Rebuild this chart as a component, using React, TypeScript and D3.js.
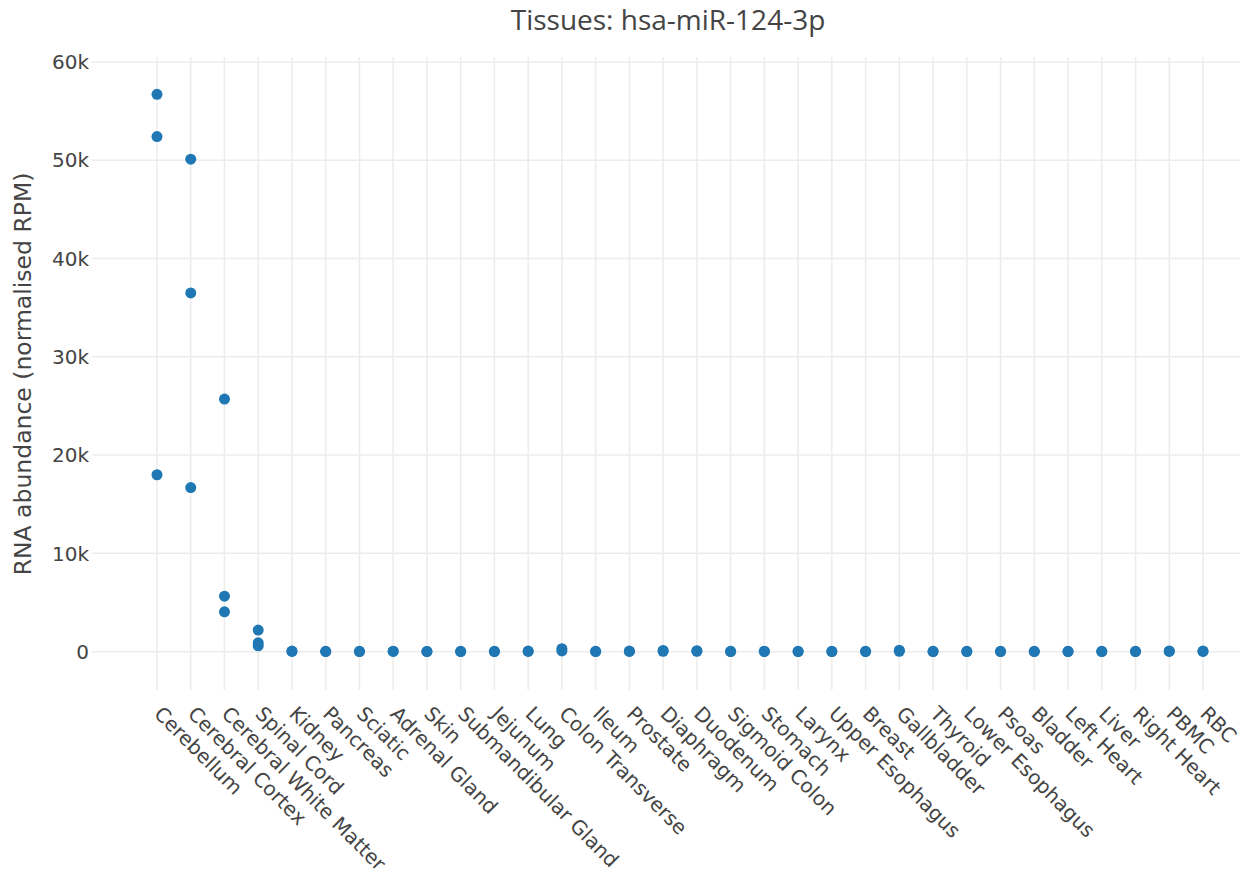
import React from "react";
import * as d3 from "d3";

// Tissue categories in plotted order
const tissues = [
  "Cerebellum", "Cerebral Cortex", "Cerebral White Matter", "Spinal Cord",
  "Kidney", "Pancreas", "Sciatic", "Adrenal Gland", "Skin", "Submandibular Gland",
  "Jejunum", "Lung", "Colon Transverse", "Ileum", "Prostate", "Diaphragm",
  "Duodenum", "Sigmoid Colon", "Stomach", "Larynx", "Upper Esophagus", "Breast",
  "Gallbladder", "Thyroid", "Lower Esophagus", "Psoas", "Bladder", "Left Heart",
  "Liver", "Right Heart", "PBMC", "RBC",
];

// Normalised RPM per sample, one list per tissue (same order as tissues)
const abundance: number[][] = [
  [56700, 52400, 18000],
  [50100, 36500, 16700],
  [25700, 5650, 4050],
  [2200, 900, 600],
  [60, 20],
  [40, 10],
  [30, 10],
  [50, 20],
  [20, 5],
  [30, 10],
  [40, 10],
  [60, 20],
  [300, 80],
  [40, 10],
  [60, 20],
  [120, 30],
  [100, 30],
  [40, 10],
  [50, 15],
  [30, 10],
  [40, 10],
  [30, 10],
  [150, 40],
  [40, 10],
  [30, 10],
  [40, 10],
  [30, 10],
  [40, 10],
  [30, 10],
  [30, 10],
  [80, 20],
  [60, 20],
];

const yTicks = [0, 10000, 20000, 30000, 40000, 50000, 60000];
const yTickLabels = ["0", "10k", "20k", "30k", "40k", "50k", "60k"];

const title = "Tissues: hsa-miR-124-3p";
const yTitle = "RNA abundance (normalised RPM)";

const W = 1247;
const H = 880;
const plot = { left: 92, right: 1240, top: 57, bottom: 690 };

export default function App() {
  const x = d3
    .scalePoint<string>()
    .domain(tissues)
    .range([157, 1203]);
  const y = d3
    .scaleLinear()
    .domain([-3900, 60500])
    .range([plot.bottom, plot.top]);

  const points = tissues.flatMap((t, i) =>
    abundance[i].map((v, j) => ({ t, v, key: `${i}-${j}` }))
  );

  const grid = "#ececec";
  const text = "#444";
  const sans = "'DejaVu Sans', Verdana, sans-serif";

  return (
    <svg
      width={W}
      height={H}
      style={{ position: "absolute", left: 0, top: 0, background: "#fff" }}
    >
      {/* gridlines */}
      <g>
        {tissues.map((t) => (
          <line
            key={t}
            x1={x(t)}
            x2={x(t)}
            y1={plot.top}
            y2={plot.bottom}
            stroke={grid}
            strokeWidth={1.5}
          />
        ))}
        {yTicks.map((v) => (
          <line
            key={v}
            x1={plot.left}
            x2={plot.right}
            y1={y(v)}
            y2={y(v)}
            stroke={grid}
            strokeWidth={1.5}
          />
        ))}
      </g>

      {/* y tick labels */}
      <g fontFamily={sans} fontSize={20} fill={text}>
        {yTicks.map((v, i) => (
          <text key={v} x={89} y={y(v)} dy="0.36em" textAnchor="end">
            {yTickLabels[i]}
          </text>
        ))}
      </g>

      {/* x tick labels, rotated */}
      <g fontFamily={sans} fontSize={20} fill={text}>
        {tissues.map((t) => (
          <text
            key={t}
            transform={`translate(${(x(t) as number) - 4},${715}) rotate(45)`}
            textAnchor="start"
          >
            {t}
          </text>
        ))}
      </g>

      {/* markers */}
      <g fill="#1f77b4">
        {points.map((p) => (
          <circle key={p.key} cx={x(p.t)} cy={y(p.v)} r={5.5} />
        ))}
      </g>

      {/* titles */}
      <text
        x={668}
        y={30}
        textAnchor="middle"
        fontFamily="'Open Sans', sans-serif"
        fontSize={28}
        fill={text}
      >
        {title}
      </text>
      <text
        transform={`translate(31,${374}) rotate(-90)`}
        textAnchor="middle"
        fontFamily={sans}
        fontSize={23.5}
        fill={text}
      >
        {yTitle}
      </text>
    </svg>
  );
}
